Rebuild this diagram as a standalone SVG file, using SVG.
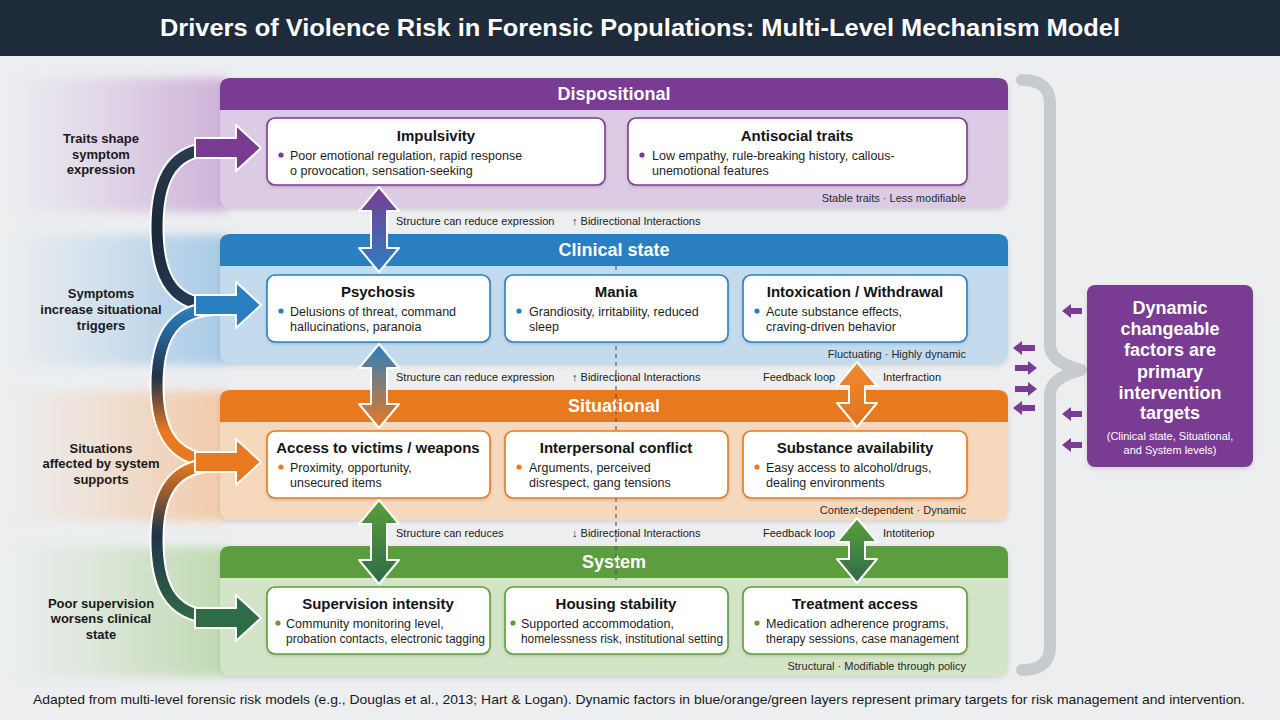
<svg xmlns="http://www.w3.org/2000/svg" width="1280" height="720" viewBox="0 0 1280 720">
<defs>
<style>
text{font-family:"Liberation Sans",Arial,sans-serif;}
.bandh{font-size:18px;font-weight:bold;fill:#fff;text-anchor:middle;}
.tag{font-size:11px;fill:#2a2a2a;text-anchor:end;}
.bt{font-size:15px;font-weight:bold;fill:#141414;text-anchor:middle;}
.bl{font-size:12.5px;fill:#1e1e1e;}
.box{fill:#fff;stroke-width:1.6;filter:url(#sh);}
.gap{font-size:11px;fill:#222;}
.left{font-size:13px;font-weight:bold;fill:#1a1a1a;text-anchor:middle;}
.outl{stroke:#fff;stroke-width:2;stroke-linejoin:round;}
.curveW{fill:none;stroke:#fff;stroke-width:15;stroke-linecap:round;}
.curve{fill:none;stroke-width:11;stroke-linecap:round;}
.pa{fill:#7a3b92;}
</style>
<filter id="sh" x="-10%" y="-10%" width="120%" height="130%"><feDropShadow dx="0" dy="1.5" stdDeviation="1.5" flood-color="#000" flood-opacity="0.15"/></filter>
<filter id="bsh" x="-5%" y="-5%" width="110%" height="115%"><feDropShadow dx="0" dy="2" stdDeviation="2" flood-color="#000" flood-opacity="0.12"/></filter>
<filter id="blur" x="-10%" y="-10%" width="120%" height="120%"><feGaussianBlur stdDeviation="5"/></filter>
<linearGradient id="fP" x1="0" x2="1" y1="0" y2="0"><stop offset="0" stop-color="#c9a8d6" stop-opacity="0"/><stop offset="0.45" stop-color="#c9a8d6" stop-opacity="0.35"/><stop offset="1" stop-color="#c9a8d6" stop-opacity="0.85"/></linearGradient>
<linearGradient id="fB" x1="0" x2="1" y1="0" y2="0"><stop offset="0" stop-color="#9cc4e4" stop-opacity="0"/><stop offset="0.45" stop-color="#9cc4e4" stop-opacity="0.35"/><stop offset="1" stop-color="#9cc4e4" stop-opacity="0.85"/></linearGradient>
<linearGradient id="fO" x1="0" x2="1" y1="0" y2="0"><stop offset="0" stop-color="#f3c39b" stop-opacity="0"/><stop offset="0.45" stop-color="#f3c39b" stop-opacity="0.35"/><stop offset="1" stop-color="#f3c39b" stop-opacity="0.85"/></linearGradient>
<linearGradient id="fG" x1="0" x2="1" y1="0" y2="0"><stop offset="0" stop-color="#b9d6a6" stop-opacity="0"/><stop offset="0.45" stop-color="#b9d6a6" stop-opacity="0.35"/><stop offset="1" stop-color="#b9d6a6" stop-opacity="0.85"/></linearGradient>
<linearGradient id="c1" gradientUnits="userSpaceOnUse" x1="0" y1="148" x2="0" y2="306"><stop offset="0" stop-color="#2a3c52"/><stop offset="0.5" stop-color="#1b2735"/><stop offset="1" stop-color="#243a55"/></linearGradient>
<linearGradient id="c2" gradientUnits="userSpaceOnUse" x1="0" y1="308" x2="0" y2="462"><stop offset="0" stop-color="#2a7fc1"/><stop offset="0.45" stop-color="#1f3347"/><stop offset="0.8" stop-color="#e8791f"/><stop offset="1" stop-color="#e8791f"/></linearGradient>
<linearGradient id="c3" gradientUnits="userSpaceOnUse" x1="0" y1="464" x2="0" y2="620"><stop offset="0" stop-color="#e8791f"/><stop offset="0.45" stop-color="#1f3347"/><stop offset="1" stop-color="#2e6b47"/></linearGradient>
<linearGradient id="a1" x1="0" y1="0" x2="0" y2="1"><stop offset="0" stop-color="#7a3b92"/><stop offset="1" stop-color="#2a7fc1"/></linearGradient>
<linearGradient id="a2" x1="0" y1="0" x2="0" y2="1"><stop offset="0" stop-color="#2a7fc1"/><stop offset="1" stop-color="#e8791f"/></linearGradient>
<linearGradient id="a3" x1="0" y1="0" x2="0" y2="1"><stop offset="0" stop-color="#5b9e3c"/><stop offset="1" stop-color="#2e6b47"/></linearGradient>
<linearGradient id="a4" x1="0" y1="0" x2="0" y2="1"><stop offset="0" stop-color="#ee8a2e"/><stop offset="1" stop-color="#e07420"/></linearGradient>
</defs>

<rect x="0" y="0" width="1280" height="720" fill="#eceef0"/>

<g id="title">
<rect x="0" y="0" width="1280" height="56" fill="#1d2b3a"/>
<text x="160" y="36" font-size="24" font-weight="bold" fill="#fff" textLength="960" lengthAdjust="spacingAndGlyphs">Drivers of Violence Risk in Forensic Populations: Multi-Level Mechanism Model</text>
</g>

<g id="left-fades" filter="url(#blur)">
<rect x="10" y="78" width="216" height="134" fill="url(#fP)"/>
<rect x="10" y="235" width="216" height="130" fill="url(#fB)"/>
<rect x="10" y="391" width="216" height="130" fill="url(#fO)"/>
<rect x="10" y="547" width="216" height="130" fill="url(#fG)"/>
</g>

<g id="left-labels">
<text class="left" x="101" y="143">Traits shape</text>
<text class="left" x="101" y="159">symptom</text>
<text class="left" x="101" y="174">expression</text>
<text class="left" x="101" y="298">Symptoms</text>
<text class="left" x="101" y="314">increase situational</text>
<text class="left" x="101" y="330">triggers</text>
<text class="left" x="101" y="453">Situations</text>
<text class="left" x="101" y="468">affected by system</text>
<text class="left" x="101" y="484">supports</text>
<text class="left" x="101" y="608">Poor supervision</text>
<text class="left" x="101" y="623">worsens clinical</text>
<text class="left" x="101" y="639">state</text>
</g>

<g id="band-dispositional" filter="url(#bsh)">
<rect x="220" y="78" width="788" height="130" rx="10" fill="#dccbe4"/>
<path d="M220,110 V88 Q220,78 230,78 H998 Q1008,78 1008,88 V110 Z" fill="#7a3b92"/>
</g>
<text class="bandh" x="614" y="100">Dispositional</text>
<text class="tag" x="966" y="202">Stable traits · Less modifiable</text>

<g id="band-clinical" filter="url(#bsh)">
<rect x="220" y="234" width="788" height="130" rx="10" fill="#c4dbee"/>
<path d="M220,266 V244 Q220,234 230,234 H998 Q1008,234 1008,244 V266 Z" fill="#2a7fc1"/>
</g>
<text class="bandh" x="614" y="256">Clinical state</text>
<text class="tag" x="966" y="358">Fluctuating · Highly dynamic</text>

<g id="band-situational" filter="url(#bsh)">
<rect x="220" y="390" width="788" height="130" rx="10" fill="#f6d8bd"/>
<path d="M220,422 V400 Q220,390 230,390 H998 Q1008,390 1008,400 V422 Z" fill="#e8791f"/>
</g>
<text class="bandh" x="614" y="412">Situational</text>
<text class="tag" x="966" y="514">Context-dependent · Dynamic</text>

<g id="band-system" filter="url(#bsh)">
<rect x="220" y="546" width="788" height="130" rx="10" fill="#d4e5c7"/>
<path d="M220,578 V556 Q220,546 230,546 H998 Q1008,546 1008,556 V578 Z" fill="#5b9e3c"/>
</g>
<text class="bandh" x="614" y="568">System</text>
<text class="tag" x="966" y="670">Structural · Modifiable through policy</text>

<g id="divider">
<line x1="616" y1="266" x2="616" y2="580" stroke="#444" stroke-width="1" stroke-dasharray="4 4"/>
</g>

<g id="node-impulsivity">
<rect class="box" x="267" y="118" width="338" height="67" rx="8" stroke="#7a3b92"/>
<text class="bt" x="436" y="141">Impulsivity</text>
<circle cx="281" cy="155" r="2.6" fill="#7a3b92"/>
<text class="bl" x="290" y="159.5">Poor emotional regulation, rapid response</text>
<text class="bl" x="290" y="174.5">o provocation, sensation-seeking</text>
</g>
<g id="node-antisocial">
<rect class="box" x="628" y="118" width="339" height="67" rx="8" stroke="#7a3b92"/>
<text class="bt" x="797" y="141">Antisocial traits</text>
<circle cx="642" cy="155" r="2.6" fill="#7a3b92"/>
<text class="bl" x="652" y="159.5">Low empathy, rule-breaking history, callous-</text>
<text class="bl" x="652" y="174.5">unemotional features</text>
</g>

<g id="node-psychosis">
<rect class="box" x="267" y="275" width="223" height="67" rx="8" stroke="#2a7fc1"/>
<text class="bt" x="378" y="297">Psychosis</text>
<circle cx="281" cy="311" r="2.6" fill="#2a7fc1"/>
<text class="bl" x="290" y="315.5">Delusions of threat, command</text>
<text class="bl" x="290" y="330.5">hallucinations, paranoia</text>
</g>
<g id="node-mania">
<rect class="box" x="505" y="275" width="223" height="67" rx="8" stroke="#2a7fc1"/>
<text class="bt" x="616" y="297">Mania</text>
<circle cx="519" cy="311" r="2.6" fill="#2a7fc1"/>
<text class="bl" x="529" y="315.5">Grandiosity, irritability, reduced</text>
<text class="bl" x="529" y="330.5">sleep</text>
</g>
<g id="node-intoxication">
<rect class="box" x="743" y="275" width="224" height="67" rx="8" stroke="#2a7fc1"/>
<text class="bt" x="855" y="297">Intoxication / Withdrawal</text>
<circle cx="757" cy="311" r="2.6" fill="#2a7fc1"/>
<text class="bl" x="766" y="315.5">Acute substance effects,</text>
<text class="bl" x="766" y="330.5">craving-driven behavior</text>
</g>

<g id="node-access">
<rect class="box" x="267" y="431" width="223" height="67" rx="8" stroke="#e8791f"/>
<text class="bt" x="378" y="453">Access to victims / weapons</text>
<circle cx="281" cy="467" r="2.6" fill="#e8791f"/>
<text class="bl" x="290" y="471.5">Proximity, opportunity,</text>
<text class="bl" x="290" y="486.5">unsecured items</text>
</g>
<g id="node-conflict">
<rect class="box" x="505" y="431" width="223" height="67" rx="8" stroke="#e8791f"/>
<text class="bt" x="616" y="453">Interpersonal conflict</text>
<circle cx="519" cy="467" r="2.6" fill="#e8791f"/>
<text class="bl" x="529" y="471.5">Arguments, perceived</text>
<text class="bl" x="529" y="486.5">disrespect, gang tensions</text>
</g>
<g id="node-substance">
<rect class="box" x="743" y="431" width="224" height="67" rx="8" stroke="#e8791f"/>
<text class="bt" x="855" y="453">Substance availability</text>
<circle cx="757" cy="467" r="2.6" fill="#e8791f"/>
<text class="bl" x="766" y="471.5">Easy access to alcohol/drugs,</text>
<text class="bl" x="766" y="486.5">dealing environments</text>
</g>

<g id="node-supervision">
<rect class="box" x="267" y="587" width="223" height="67" rx="8" stroke="#5b9e3c"/>
<text class="bt" x="378" y="609">Supervision intensity</text>
<circle cx="278" cy="623" r="2.6" fill="#5b9e3c"/>
<text class="bl" x="286" y="627.5">Community monitoring level,</text>
<text class="bl" x="286" y="642.5" textLength="199" lengthAdjust="spacingAndGlyphs">probation contacts, electronic tagging</text>
</g>
<g id="node-housing">
<rect class="box" x="505" y="587" width="223" height="67" rx="8" stroke="#5b9e3c"/>
<text class="bt" x="616" y="609">Housing stability</text>
<circle cx="513" cy="623" r="2.6" fill="#5b9e3c"/>
<text class="bl" x="521" y="627.5">Supported accommodation,</text>
<text class="bl" x="521" y="642.5" textLength="202" lengthAdjust="spacingAndGlyphs">homelessness risk, institutional setting</text>
</g>
<g id="node-treatment">
<rect class="box" x="743" y="587" width="224" height="67" rx="8" stroke="#5b9e3c"/>
<text class="bt" x="855" y="609">Treatment access</text>
<circle cx="757" cy="623" r="2.6" fill="#5b9e3c"/>
<text class="bl" x="766" y="627.5">Medication adherence programs,</text>
<text class="bl" x="766" y="642.5" textLength="193" lengthAdjust="spacingAndGlyphs">therapy sessions, case management</text>
</g>

<g id="gap-labels">
<text class="gap" x="396" y="225">Structure can reduce expression</text>
<text class="gap" x="572" y="225">↑ Bidirectional Interactions</text>
<text class="gap" x="396" y="381">Structure can reduce expression</text>
<text class="gap" x="572" y="381">↑ Bidirectional Interactions</text>
<text class="gap" x="763" y="381">Feedback loop</text>
<text class="gap" x="883" y="381">Interfraction</text>
<text class="gap" x="396" y="537">Structure can reduces</text>
<text class="gap" x="572" y="537">↓ Bidirectional Interactions</text>
<text class="gap" x="763" y="537">Feedback loop</text>
<text class="gap" x="883" y="537">Intotiteriop</text>
</g>

<g id="connectors">
<path class="curveW" d="M212 149 C168 150 157 185 157 227 C157 270 168 304 212 305"/>
<path class="curve" stroke="url(#c1)" d="M212 149 C168 150 157 185 157 227 C157 270 168 304 212 305"/>
<path class="curveW" d="M210 309 C168 312 157 345 157 385 C157 425 168 458 212 461"/>
<path class="curve" stroke="url(#c2)" d="M210 309 C168 312 157 345 157 385 C157 425 168 458 212 461"/>
<path class="curveW" d="M210 465 C168 468 157 500 157 540 C157 582 168 615 212 617"/>
<path class="curve" stroke="url(#c3)" d="M210 465 C168 468 157 500 157 540 C157 582 168 615 212 617"/>

<polygon class="outl" fill="#7a3b92" points="195,138 236,138 236,125 261,148 236,171 236,158 195,158"/>
<polygon class="outl" fill="#2a7fc1" points="195,295 236,295 236,282 261,305 236,328 236,315 195,315"/>
<polygon class="outl" fill="#e8791f" points="195,452 236,452 236,439 261,462 236,485 236,472 195,472"/>
<polygon class="outl" fill="#2e6b47" points="195,608 236,608 236,595 261,618 236,641 236,628 195,628"/>

<polygon class="outl" fill="url(#a1)" points="379,187 399,211 387,211 387,248 399,248 379,272 359,248 371,248 371,211 359,211"/>
<polygon class="outl" fill="url(#a2)" points="379,344 399,368 387,368 387,404 399,404 379,428 359,404 371,404 371,368 359,368"/>
<polygon class="outl" fill="url(#a3)" points="379,500 399,524 387,524 387,560 399,560 379,584 359,560 371,560 371,524 359,524"/>
<polygon class="outl" fill="url(#a4)" points="857,362 877,386 865,386 865,403 877,403 857,427 837,403 849,403 849,386 837,386"/>
<polygon class="outl" fill="url(#a3)" points="857,518 877,542 865,542 865,559 877,559 857,583 837,559 849,559 849,542 837,542"/>

<path d="M1022 80 Q1050 80 1050 104 L1050 345 Q1050 362 1081 370 Q1050 378 1050 395 L1050 646 Q1050 670 1022 670" fill="none" stroke="#c8cbce" stroke-width="12" stroke-linecap="round" stroke-linejoin="round"/>

<polygon class="pa" points="1013,348 1022,341 1022,345 1035,345 1035,351 1022,351 1022,355"/>
<polygon class="pa" points="1037,368 1028,361 1028,365 1015,365 1015,371 1028,371 1028,375"/>
<polygon class="pa" points="1037,389 1028,382 1028,386 1015,386 1015,392 1028,392 1028,396"/>
<polygon class="pa" points="1013,408 1022,401 1022,405 1035,405 1035,411 1022,411 1022,415"/>
<polygon class="pa" points="1062,311 1071,304 1071,308 1082,308 1082,314 1071,314 1071,318"/>
<polygon class="pa" points="1062,414 1071,407 1071,411 1082,411 1082,417 1071,417 1071,421"/>
<polygon class="pa" points="1062,445 1071,438 1071,442 1082,442 1082,448 1071,448 1071,452"/>
</g>

<g id="node-dynamic">
<rect x="1087" y="285" width="166" height="182" rx="8" fill="#7a3b92" filter="url(#bsh)"/>
<text x="1170" y="314" font-size="18" font-weight="bold" fill="#fff" text-anchor="middle">Dynamic</text>
<text x="1170" y="335" font-size="18" font-weight="bold" fill="#fff" text-anchor="middle">changeable</text>
<text x="1170" y="356" font-size="18" font-weight="bold" fill="#fff" text-anchor="middle">factors are</text>
<text x="1170" y="378" font-size="18" font-weight="bold" fill="#fff" text-anchor="middle">primary</text>
<text x="1170" y="399" font-size="18" font-weight="bold" fill="#fff" text-anchor="middle">intervention</text>
<text x="1170" y="419" font-size="18" font-weight="bold" fill="#fff" text-anchor="middle">targets</text>
<text x="1170" y="440" font-size="11" fill="#fff" text-anchor="middle">(Clinical state, Situational,</text>
<text x="1170" y="454" font-size="11" fill="#fff" text-anchor="middle">and System levels)</text>
</g>

<g id="footer">
<text x="33" y="704" font-size="13" fill="#1a1a1a" textLength="1212" lengthAdjust="spacingAndGlyphs">Adapted from multi-level forensic risk models (e.g., Douglas et al., 2013; Hart &amp; Logan). Dynamic factors in blue/orange/green layers represent primary targets for risk management and intervention.</text>
</g>
</svg>
